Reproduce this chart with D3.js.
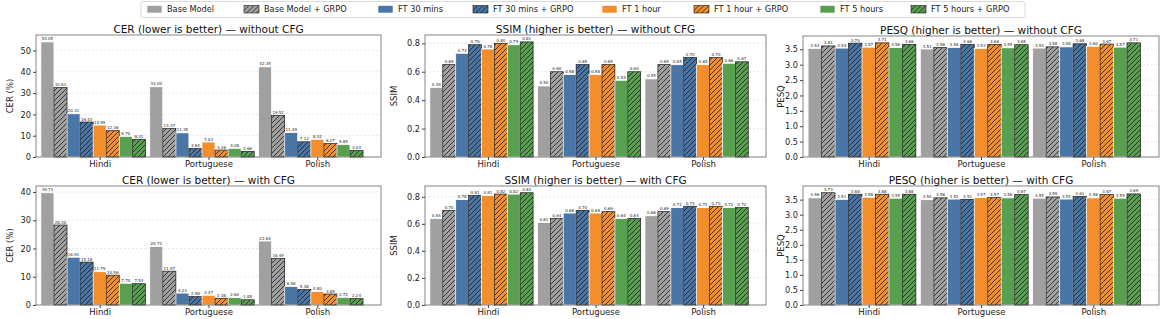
<!DOCTYPE html>
<html>
<head>
<meta charset="utf-8">
<script src="https://cdn.jsdelivr.net/npm/d3@7"></script>
<style>
  body { margin: 0; background: #fff; }
  svg { font-family: "DejaVu Sans", sans-serif; }
</style>
</head>
<body>
<svg id="chart" width="1164" height="319"></svg>
<script>
var languages = ["Hindi", "Portuguese", "Polish"];
var seriesNames = ["Base Model", "Base Model + GRPO", "FT 30 mins", "FT 30 mins + GRPO",
                   "FT 1 hour", "FT 1 hour + GRPO", "FT 5 hours", "FT 5 hours + GRPO"];
var seriesColors = ["#a0a0a0", "#a0a0a0", "#4a76a6", "#4a76a6", "#f28e2b", "#f28e2b", "#58a04f", "#58a04f"];
var seriesHatch = [false, true, false, true, false, true, false, true];

// values per language, in series order
var cerNoCfg = [[54.05, 32.61, 20.31, 16.43, 14.99, 12.36, 9.70, 8.31],
                [33.00, 13.37, 11.35, 3.94, 7.03, 3.26, 4.08, 2.66],
                [42.35, 19.52, 11.49, 7.13, 8.32, 6.27, 5.85, 3.04]];
var ssimNoCfg = [[0.49, 0.65, 0.73, 0.79, 0.76, 0.80, 0.79, 0.81],
                 [0.50, 0.60, 0.58, 0.65, 0.58, 0.65, 0.54, 0.60],
                 [0.55, 0.65, 0.65, 0.70, 0.65, 0.70, 0.66, 0.67]];
var pesqNoCfg = [[3.53, 3.61, 3.54, 3.70, 3.57, 3.71, 3.56, 3.66],
                 [3.51, 3.56, 3.56, 3.66, 3.53, 3.66, 3.55, 3.65],
                 [3.54, 3.58, 3.58, 3.68, 3.60, 3.67, 3.57, 3.71]];
var cerCfg = [[39.73, 28.30, 16.91, 15.18, 11.79, 10.56, 7.70, 7.53],
              [20.72, 11.97, 4.23, 2.98, 3.47, 2.38, 2.60, 1.85],
              [22.64, 16.49, 6.58, 5.48, 4.80, 3.89, 2.72, 2.24]];
var ssimCfg = [[0.64, 0.70, 0.78, 0.81, 0.81, 0.82, 0.82, 0.83],
               [0.61, 0.64, 0.68, 0.70, 0.68, 0.69, 0.64, 0.64],
               [0.66, 0.69, 0.72, 0.73, 0.72, 0.73, 0.72, 0.72]];
var pesqCfg = [[3.56, 3.73, 3.51, 3.68, 3.58, 3.68, 3.55, 3.68],
               [3.50, 3.56, 3.52, 3.51, 3.57, 3.57, 3.56, 3.67],
               [3.55, 3.59, 3.52, 3.61, 3.56, 3.67, 3.55, 3.69]];

var svg = d3.select("#chart");
var defs = svg.append("defs");

seriesColors.forEach(function(c, i) {
  if (!seriesHatch[i]) return;
  var p = defs.append("pattern").attr("id", "hatch" + i)
    .attr("patternUnits", "userSpaceOnUse").attr("width", 5).attr("height", 5);
  p.append("rect").attr("width", 5).attr("height", 5).attr("fill", c);
  p.append("path").attr("d", "M-1,1 l2,-2 M0,5 l5,-5 M4,6 l2,-2")
    .attr("stroke", "#1a1a1a").attr("stroke-width", 0.8);
});

var panels = [
  {data: cerNoCfg, title: "CER (lower is better) \u2014 without CFG", ylab: "CER (%)", ticks: [0, 10, 20, 30, 40, 50], fmt: d3.format("d"), x0: 36, x1: 381, y0: 35, y1: 157, lx: 10},
  {data: ssimNoCfg, title: "SSIM (higher is better) \u2014 without CFG", ylab: "SSIM", ticks: [0, 0.2, 0.4, 0.6, 0.8], fmt: d3.format(".1f"), x0: 425, x1: 766, y0: 35, y1: 157, lx: 394},
  {data: pesqNoCfg, title: "PESQ (higher is better) \u2014 without CFG", ylab: "PESQ", ticks: [0, 0.5, 1, 1.5, 2, 2.5, 3, 3.5], fmt: d3.format(".1f"), x0: 803, x1: 1159, y0: 36, y1: 157, lx: 781},
  {data: cerCfg, title: "CER (lower is better) \u2014 with CFG", ylab: "CER (%)", ticks: [0, 10, 20, 30, 40], fmt: d3.format("d"), x0: 36, x1: 381, y0: 186, y1: 305, lx: 10},
  {data: ssimCfg, title: "SSIM (higher is better) \u2014 with CFG", ylab: "SSIM", ticks: [0, 0.2, 0.4, 0.6, 0.8], fmt: d3.format(".1f"), x0: 425, x1: 766, y0: 186, y1: 305, lx: 394},
  {data: pesqCfg, title: "PESQ (higher is better) \u2014 with CFG", ylab: "PESQ", ticks: [0, 0.5, 1, 1.5, 2, 2.5, 3, 3.5], fmt: d3.format(".1f"), x0: 803, x1: 1159, y0: 186, y1: 305, lx: 781}
];

var bw = 0.12;

panels.forEach(function(p) {
  var maxV = d3.max(p.data, function(r) { return d3.max(r); });
  var x = d3.scaleLinear().domain([-0.585, 2.585]).range([p.x0, p.x1]);
  var y = d3.scaleLinear().domain([0, maxV * 1.06]).range([p.y1, p.y0]);
  var g = svg.append("g");

  // grid
  g.selectAll(".grid").data(p.ticks).enter().append("line")
    .attr("x1", p.x0).attr("x2", p.x1)
    .attr("y1", function(d) { return y(d); }).attr("y2", function(d) { return y(d); })
    .attr("stroke", "#d8d8d8").attr("stroke-width", 0.6).attr("stroke-dasharray", "2,2");

  languages.forEach(function(lang, li) {
    var vals = p.data[li];
    vals.forEach(function(v, si) {
      var cx = li + (si - 4) * bw;
      var left = x(cx - bw / 2), right = x(cx + bw / 2);
      g.append("rect")
        .attr("x", left).attr("y", y(v))
        .attr("width", right - left).attr("height", y(0) - y(v))
        .attr("fill", seriesHatch[si] ? "url(#hatch" + si + ")" : seriesColors[si])
        .attr("stroke", seriesHatch[si] ? "#1a1a1a" : "#ffffff")
        .attr("stroke-width", seriesHatch[si] ? 0.7 : 0.8);
      g.append("text")
        .attr("x", (left + right) / 2).attr("y", y(v) - 1.5)
        .attr("text-anchor", "middle").attr("font-size", 4).attr("fill", "#222")
        .text(v.toFixed(2));
    });
  });

  // frame
  g.append("rect").attr("x", p.x0).attr("y", p.y0)
    .attr("width", p.x1 - p.x0).attr("height", p.y1 - p.y0)
    .attr("fill", "none").attr("stroke", "#666").attr("stroke-width", 0.8);

  var ya = g.append("g").attr("transform", "translate(" + p.x0 + ",0)")
    .call(d3.axisLeft(y).tickValues(p.ticks).tickFormat(p.fmt).tickSize(3).tickPadding(2));
  ya.select(".domain").remove();
  ya.selectAll("text").attr("font-size", 8.2).attr("fill", "#222").attr("font-family", "DejaVu Sans");
  ya.selectAll("line").attr("stroke", "#444");

  var xa = g.append("g").attr("transform", "translate(0," + p.y1 + ")")
    .call(d3.axisBottom(x).tickValues([0, 1, 2]).tickFormat(function(d) { return languages[d]; }).tickSize(3).tickPadding(1));
  xa.select(".domain").remove();
  xa.selectAll("text").attr("font-size", 8.5).attr("fill", "#222").attr("font-family", "DejaVu Sans");
  xa.selectAll("line").attr("stroke", "#444");

  g.append("text").attr("x", (p.x0 + p.x1) / 2).attr("y", p.y0 - 2.5)
    .attr("text-anchor", "middle").attr("font-size", 10.5).attr("fill", "#111")
    .text(p.title);

  g.append("text")
    .attr("transform", "translate(" + p.lx + "," + ((p.y0 + p.y1) / 2) + ") rotate(-90)")
    .attr("text-anchor", "middle").attr("dy", "0.35em").attr("font-size", 8.5).attr("fill", "#222")
    .text(p.ylab);
});

// legend
var legX = [147, 244, 378, 473, 602, 694, 820, 911];
var leg = svg.append("g");
leg.append("rect").attr("x", 141).attr("y", 1.5).attr("width", 884).attr("height", 16)
  .attr("fill", "#fff").attr("stroke", "#d0d0d0").attr("stroke-width", 0.8).attr("rx", 2);
seriesNames.forEach(function(name, i) {
  var e = leg.append("g").attr("transform", "translate(" + legX[i] + ",5.5)");
  e.append("rect").attr("width", 15).attr("height", 7.5)
    .attr("fill", seriesHatch[i] ? "url(#hatch" + i + ")" : seriesColors[i])
    .attr("stroke", seriesHatch[i] ? "#1a1a1a" : "#fff").attr("stroke-width", 0.6);
  e.append("text").attr("x", 20).attr("y", 4).attr("dy", "0.35em")
    .attr("font-size", 8.2).attr("fill", "#222").text(name);
});
</script>
</body>
</html>
